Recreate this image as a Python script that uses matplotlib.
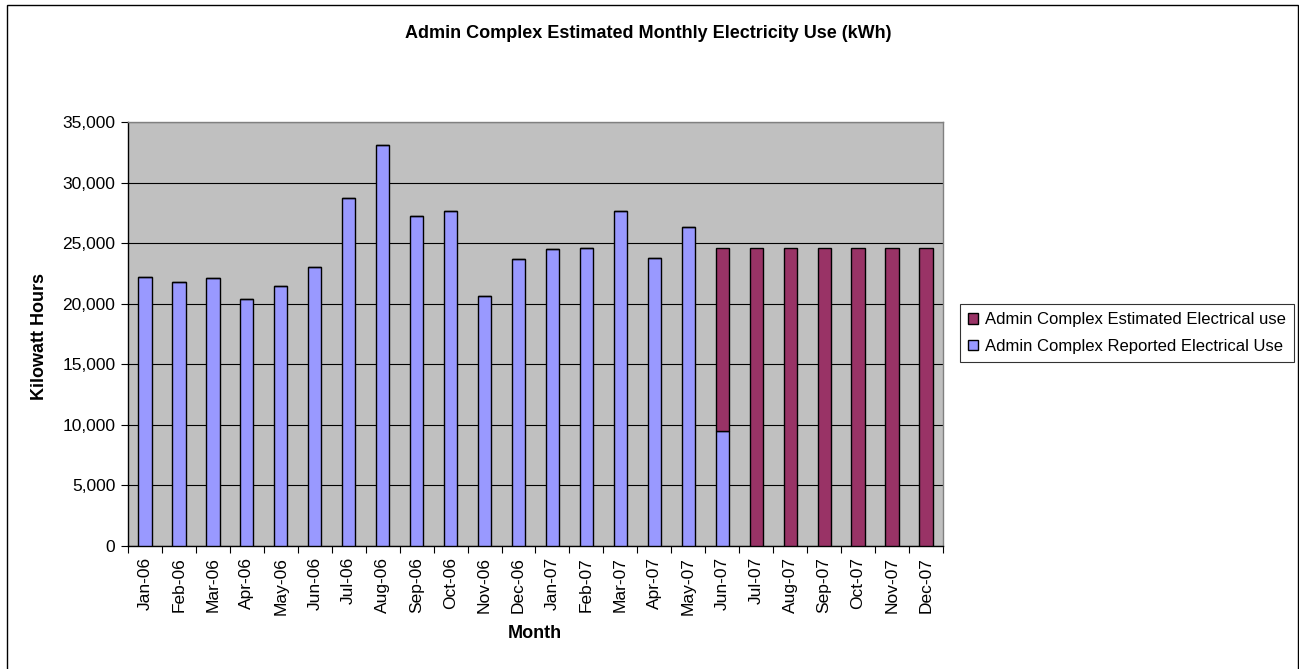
import matplotlib
matplotlib.use("Agg")
import matplotlib.pyplot as plt
from matplotlib.patches import Rectangle
import numpy as np

plt.rcParams['font.family'] = ['Liberation Sans', 'DejaVu Sans']

months = ["Jan-06", "Feb-06", "Mar-06", "Apr-06", "May-06", "Jun-06", "Jul-06", "Aug-06",
          "Sep-06", "Oct-06", "Nov-06", "Dec-06", "Jan-07", "Feb-07", "Mar-07", "Apr-07",
          "May-07", "Jun-07", "Jul-07", "Aug-07", "Sep-07", "Oct-07", "Nov-07", "Dec-07"]
reported = [22230, 21820, 22100, 20360, 21460, 23030, 28730, 33130,
            27240, 27680, 20640, 23660, 24490, 24630, 27680, 23800,
            26330, 9490, 0, 0, 0, 0, 0, 0]
estimated = [0, 0, 0, 0, 0, 0, 0, 0,
             0, 0, 0, 0, 0, 0, 0, 0,
             0, 15140, 24630, 24630, 24630, 24630, 24630, 24630]

W, H = 1299, 669
fig = plt.figure(figsize=(W / 100, H / 100), dpi=100)
fig.patch.set_facecolor("white")
fig.add_artist(Rectangle((7 / W, -5 / H), (1297.5 - 7) / W, (H - 5 + 5) / H, transform=fig.transFigure,
                         fill=False, edgecolor="black", linewidth=1.0))

left, right, top, bottom = 128, 943, 122, 546
ax = fig.add_axes([left / W, 1 - bottom / H, (right - left) / W, (bottom - top) / H])
ax.set_facecolor("#C0C0C0")

x = np.arange(len(months))
bw = 0.39
ax.bar(x, reported, bw, color="#9999FF", edgecolor="black", linewidth=1.0,
       label="Admin Complex Reported Electrical Use", zorder=3)
ax.bar(x, estimated, bw, bottom=reported, color="#993366", edgecolor="black", linewidth=1.0,
       label="Admin Complex Estimated Electrical use", zorder=3)

ax.set_xlim(-0.5, len(months) - 0.5)
ax.set_ylim(0, 35000)
ax.set_yticks(np.arange(0, 35001, 5000))
ax.set_yticklabels([f"{v:,}" for v in range(0, 35001, 5000)], fontsize=12.5)
ax.yaxis.grid(True, color="black", linewidth=0.8, zorder=1)
ax.set_axisbelow(True)

ax.set_xticks(np.arange(-0.5, len(months), 1.0))
ax.set_xticklabels([])
ax.set_xticks(x, minor=True)
ax.set_xticklabels(months, minor=True, rotation=90, fontsize=12.5)
ax.tick_params(axis="x", which="minor", length=0, pad=8)
ax.tick_params(axis="x", which="major", length=5, direction="out", color="black")
ax.tick_params(axis="y", length=5, direction="out", color="black", pad=4)

for s in ["top", "right"]:
    ax.spines[s].set_color("#808080")
    ax.spines[s].set_linewidth(1.0)
for s in ["left", "bottom"]:
    ax.spines[s].set_color("black")
    ax.spines[s].set_linewidth(1.0)

fig.text(535 / W, 1 - 634 / H, "Month", ha="center", va="center",
         fontsize=13, fontweight="bold")
fig.text(40 / W, 1 - 336 / H, "Kilowatt Hours", ha="center", va="center",
         rotation=90, fontsize=13, fontweight="bold")

fig.text(648 / W, 1 - 34 / H, "Admin Complex Estimated Monthly Electricity Use (kWh)",
         ha="center", va="center", fontsize=13, fontweight="bold")

handles, labels = ax.get_legend_handles_labels()
leg = fig.legend(handles[::-1], labels[::-1], loc="upper left",
                 bbox_to_anchor=(960 / W, 1 - 304 / H), fontsize=12, frameon=True,
                 fancybox=False, edgecolor="black", handlelength=0.6, handleheight=0.6,
                 handletextpad=0.4, borderpad=0.5, labelspacing=0.7, borderaxespad=0)
leg.get_frame().set_linewidth(0.8)

fig.savefig("out.png", dpi=100)
